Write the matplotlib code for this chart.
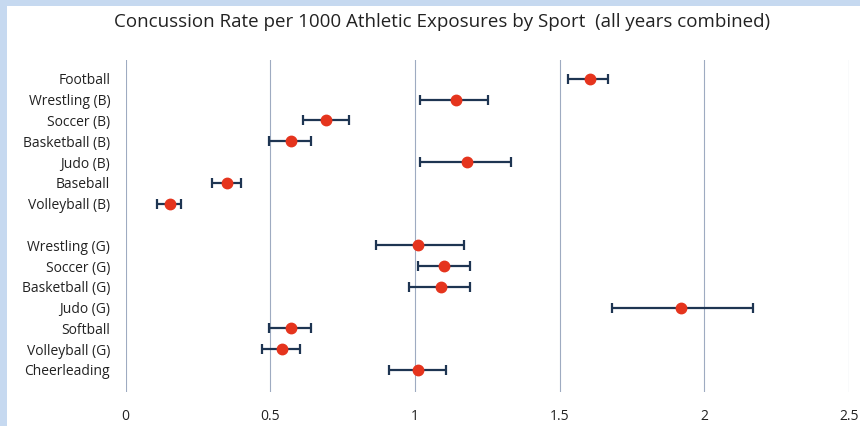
import matplotlib.pyplot as plt
from matplotlib.patches import Rectangle

# Data (rate per 1000 AE with 95% CI)
sports = ['Football', 'Wrestling (B)', 'Soccer (B)', 'Basketball (B)', 'Judo (B)',
          'Baseball', 'Volleyball (B)', '',
          'Wrestling (G)', 'Soccer (G)', 'Basketball (G)', 'Judo (G)',
          'Softball', 'Volleyball (G)', 'Cheerleading']
rate = [1.604, 1.143, 0.693, 0.571, 1.181, 0.351, 0.153, None,
        1.010, 1.100, 1.091, 1.920, 0.571, 0.541, 1.010]
ci_low = [1.530, 1.018, 0.612, 0.497, 1.018, 0.299, 0.108, None,
          0.864, 1.010, 0.981, 1.682, 0.497, 0.471, 0.910]
ci_high = [1.666, 1.251, 0.773, 0.640, 1.332, 0.398, 0.192, None,
           1.171, 1.189, 1.189, 2.169, 0.640, 0.603, 1.109]

plt.rcParams['font.family'] = ['Open Sans', 'DejaVu Sans']

fig = plt.figure(figsize=(8.6, 4.26), dpi=100, facecolor='#c6d9f0')
# white chart area inside the light blue frame
fig.patches.append(Rectangle((7 / 860, 0), 1, 1 - 6 / 426, transform=fig.transFigure,
                             facecolor='white', edgecolor='none', zorder=-10))

ax = fig.add_axes([125.5 / 860, 1 - 392 / 426, (849 - 125.5) / 860, (392 - 60) / 426])
ax.set_facecolor('none')
ax.set_zorder(2)

ys = [i for i, r in enumerate(rate) if r is not None]
x = [rate[i] for i in ys]
lo = [rate[i] - ci_low[i] for i in ys]
hi = [ci_high[i] - rate[i] for i in ys]

ax.errorbar(x, ys, xerr=[lo, hi], fmt='none', ecolor='#1e3552', elinewidth=1.6,
            capsize=3.5, capthick=1.6, zorder=3)
ax.plot(x, ys, 'o', color='#e5341d', markersize=7.5, zorder=4)

ax.set_xlim(0, 2.5)
ax.set_xticks([0, 0.5, 1, 1.5, 2, 2.5])
ax.set_xticklabels(['0', '0.5', '1', '1.5', '2', '2.5'])
ax.set_ylim(15.06, -0.91)
ax.set_yticks(range(len(sports)))
ax.set_yticklabels(sports)
ax.grid(axis='x', color='#9eabc1', linewidth=0.8)
ax.set_axisbelow(True)
for s in ax.spines.values():
    s.set_visible(False)
ax.tick_params(axis='both', length=0, labelsize=10, colors='#222222')
ax.tick_params(axis='x', pad=12)
ax.tick_params(axis='y', pad=11)

fig.text(0.514, 1 - 22 / 426, 'Concussion Rate per 1000 Athletic Exposures by Sport  (all years combined)',
         ha='center', va='center', fontsize=13.5, color='#222222')

fig.savefig('out.png', dpi=100, facecolor=fig.get_facecolor())
